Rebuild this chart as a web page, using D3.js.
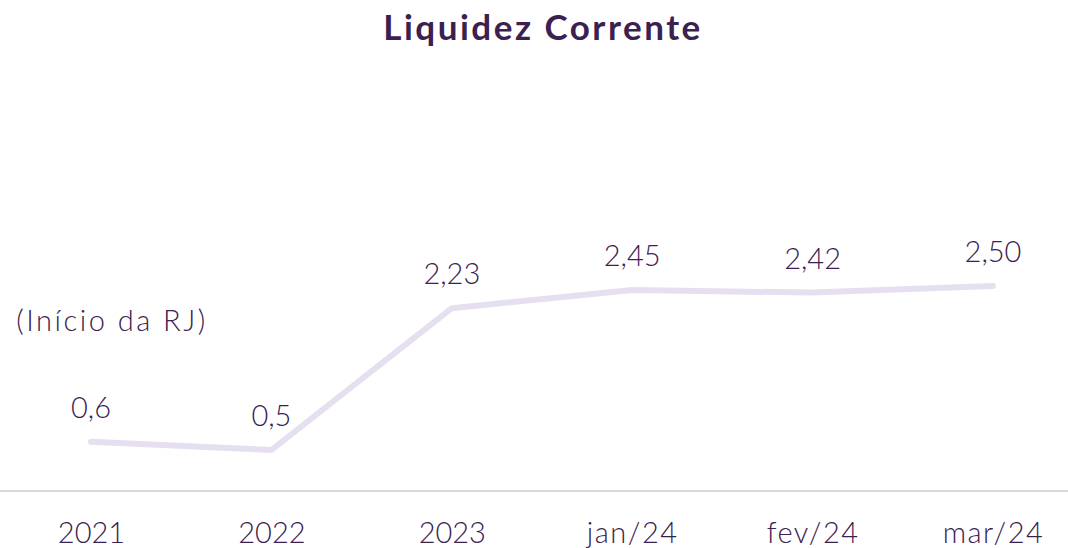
<!DOCTYPE html>
<html>
<head>
<meta charset="utf-8">
<script src="https://cdn.jsdelivr.net/npm/d3@7"></script>
<style>
  body { margin: 0; background: #fff; }
  svg { display: block; font-family: "Lato", "DejaVu Sans", sans-serif; }
</style>
</head>
<body>
<div id="chart"></div>
<script>
// data
const categories = ["2021", "2022", "2023", "jan/24", "fev/24", "mar/24"]
const values = [0.6, 0.5, 2.23, 2.45, 2.42, 2.50]
const valueLabels = ["0,6", "0,5", "2,23", "2,45", "2,42", "2,50"]
const title = "Liquidez Corrente"
const note = "(Início da RJ)"

const dims = { width: 1068, height: 548 }
const textColor = "#3b2150"

const svg = d3.select("#chart").append("svg")
    .attr("width", dims.width)
    .attr("height", dims.height)

// scales
const xScale = d3.scalePoint()
    .domain(categories)
    .range([91, 993])

const yScale = d3.scaleLinear()
    .domain([0, 3])
    .range([491, 245])

// title
svg.append("text")
    .attr("x", 543)
    .attr("y", 40)
    .attr("text-anchor", "middle")
    .attr("font-size", 35)
    .attr("font-weight", "bold")
    .attr("letter-spacing", 2.5)
    .attr("fill", textColor)
    .text(title)

// baseline axis
const xAxis = d3.axisBottom(xScale).tickSize(0).tickPadding(30)
const axisG = svg.append("g")
    .attr("transform", "translate(0,491)")
    .call(xAxis)
axisG.select(".domain").remove()
axisG.selectAll("text")
    .attr("font-size", 29)
    .attr("font-family", "Lato, sans-serif")
    .attr("font-weight", 300)
    .attr("letter-spacing", d => /\//.test(d) ? 1.5 : 0)
    .attr("fill", textColor)
    .attr("dy", "0.75em")

svg.append("line")
    .attr("x1", 0).attr("x2", dims.width)
    .attr("y1", 491).attr("y2", 491)
    .attr("stroke", "#d9d9d9")
    .attr("stroke-width", 2)

// line
const line = d3.line()
    .x((d, i) => xScale(categories[i]))
    .y(d => yScale(d))

svg.append("path")
    .datum(values)
    .attr("d", line)
    .attr("fill", "none")
    .attr("stroke", "#e6dff0")
    .attr("stroke-width", 6)
    .attr("stroke-linecap", "round")
    .attr("stroke-linejoin", "round")

// value labels
svg.selectAll(".vlabel")
    .data(values)
    .join("text")
    .attr("class", "vlabel")
    .attr("x", (d, i) => xScale(categories[i]))
    .attr("y", d => yScale(d) - 24)
    .attr("text-anchor", "middle")
    .attr("font-size", 29)
    .attr("font-weight", 300)
    .attr("fill", textColor)
    .text((d, i) => valueLabels[i])

// note
svg.append("text")
    .attr("x", 112)
    .attr("y", 331)
    .attr("text-anchor", "middle")
    .attr("font-size", 29)
    .attr("font-weight", 300)
    .attr("letter-spacing", 2.5)
    .attr("fill", textColor)
    .text(note)
</script>
</body>
</html>
